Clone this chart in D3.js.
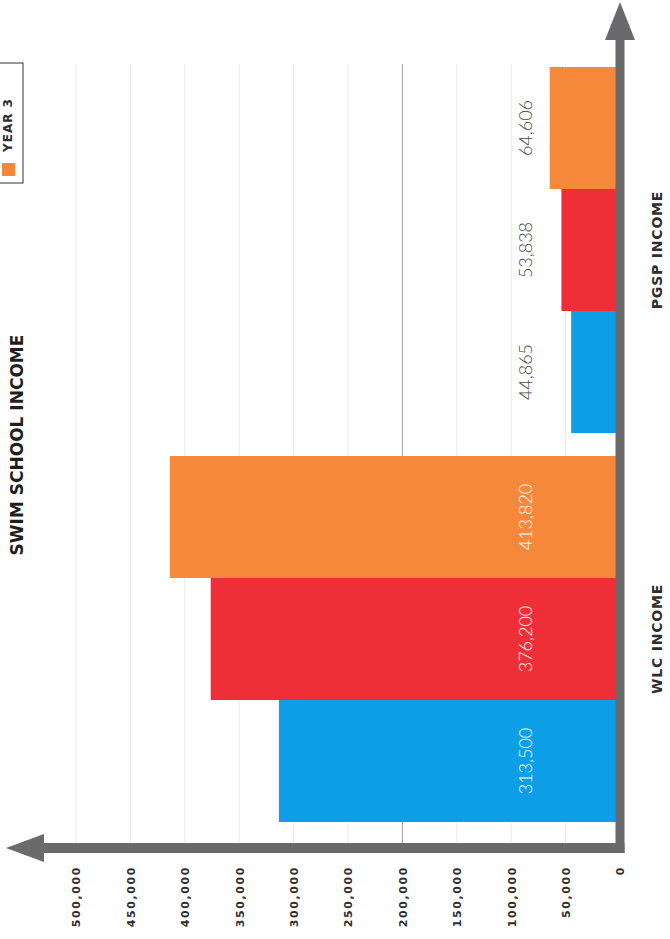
<!DOCTYPE html>
<html>
<head>
<meta charset="utf-8">
<script src="https://cdn.jsdelivr.net/npm/d3@7"></script>
<style>
  html, body { margin: 0; padding: 0; background: #ffffff; }
  svg { display: block; }
</style>
</head>
<body>
<svg id="chart" width="670" height="939"></svg>
<script>
// ---- data ----
const categories = ["PGSP INCOME", "WLC INCOME"];
const seriesNames = ["YEAR 1", "YEAR 2", "YEAR 3"];
const year1Values = [44865, 313500];
const year2Values = [53838, 376200];
const year3Values = [64606, 413820];
const tickValues = [0, 50000, 100000, 150000, 200000, 250000, 300000, 350000, 400000, 450000, 500000];
const legendShown = ["YEAR 3"]; // only this legend entry is inside the visible page
const titleText = "SWIM SCHOOL INCOME";

const seriesColors = { "YEAR 1": "#0c9fe8", "YEAR 2": "#ee2f37", "YEAR 3": "#f5883a" };
const seriesValues = { "YEAR 1": year1Values, "YEAR 2": year2Values, "YEAR 3": year3Values };

const svg = d3.select("#chart");
const boldFont = "'DejaVu Sans', sans-serif";

// value scale runs right-to-left (chart rotated)
const x = d3.scaleLinear().domain([0, 500000]).range([620, 76]);
const yCat = d3.scaleBand().domain(categories).range([67, 822]).paddingInner(0.0591).paddingOuter(0);
const ySer = d3.scaleBand().domain(["YEAR 3", "YEAR 2", "YEAR 1"]).range([0, yCat.bandwidth()]);

// gridlines
svg.append("g").selectAll("line")
  .data(tickValues.filter(t => t > 0))
  .join("line")
  .attr("x1", d => x(d)).attr("x2", d => x(d))
  .attr("y1", 64).attr("y2", 843)
  .attr("stroke", d => d === 200000 ? "#9c9c9c" : "#ececec")
  .attr("stroke-width", 1);

// bars
const rows = [];
categories.forEach((c, ci) => {
  seriesNames.forEach(s => rows.push({ cat: c, series: s, value: seriesValues[s][ci] }));
});

svg.append("g").selectAll("rect")
  .data(rows)
  .join("rect")
  .attr("x", d => x(d.value))
  .attr("y", d => yCat(d.cat) + ySer(d.series))
  .attr("width", d => x(0) - x(d.value))
  .attr("height", ySer.bandwidth())
  .attr("fill", d => seriesColors[d.series]);

// value labels
const labelPos = x(0) - 94;
svg.append("g").selectAll("text")
  .data(rows)
  .join("text")
  .attr("transform", d => `translate(${labelPos},${yCat(d.cat) + ySer(d.series) + ySer.bandwidth() / 2}) rotate(-90)`)
  .attr("text-anchor", "middle")
  .attr("dy", "0.35em")
  .attr("font-family", "Lato, sans-serif")
  .attr("font-weight", 300)
  .attr("font-size", 18)
  .attr("fill", d => x(d.value) < labelPos - 40 ? "#ffffff" : "#4a4a4a")
  .text(d => d3.format(",")(d.value));

// value axis (bottom, labels rotated)
const axisY = 848;
const axisG = svg.append("g")
  .attr("transform", `translate(0,${axisY})`)
  .call(d3.axisBottom(x).tickValues(tickValues).tickSize(0).tickFormat(d3.format(",")));
axisG.select(".domain").remove();
axisG.selectAll("text")
  .attr("transform", "rotate(-90)")
  .attr("text-anchor", "end")
  .attr("x", -18)
  .attr("y", 0)
  .attr("dy", "0.35em")
  .attr("font-family", boldFont)
  .attr("font-weight", "bold")
  .attr("font-size", 11)
  .attr("letter-spacing", "1.6px")
  .attr("fill", "#2e2e2e");

// axis arrows
const axisColor = "#6a6a6c";
const axX = 620;
svg.append("rect").attr("x", axX - 4.5).attr("y", 36).attr("width", 9).attr("height", axisY + 5 - 36).attr("fill", axisColor);
svg.append("rect").attr("x", 40).attr("y", axisY - 5).attr("width", axX + 4.5 - 40).attr("height", 10).attr("fill", axisColor);
svg.append("path")
  .attr("d", `M${axX},2 L${axX + 15},40 L${axX - 15},40 Z`)
  .attr("fill", axisColor);
svg.append("path")
  .attr("d", `M6,${axisY} L44,${axisY - 14} L44,${axisY + 14} Z`)
  .attr("fill", axisColor);

// category labels
svg.append("g").selectAll("text")
  .data(categories)
  .join("text")
  .attr("transform", d => `translate(657,${yCat(d) + yCat.bandwidth() / 2}) rotate(-90)`)
  .attr("text-anchor", "middle")
  .attr("dy", "0.35em")
  .attr("font-family", boldFont)
  .attr("font-weight", "bold")
  .attr("font-size", 14)
  .attr("letter-spacing", "0.8px")
  .attr("fill", "#2e2e2e")
  .text(d => d);

// title
svg.append("text")
  .attr("transform", "translate(23,445) rotate(-90)")
  .attr("text-anchor", "middle")
  .attr("font-family", boldFont)
  .attr("font-weight", "bold")
  .attr("font-size", 17)
  .attr("fill", "#1e1e1e")
  .text(titleText);

// legend (box runs off the page edge, as in the reference)
const legend = svg.append("g");
legend.append("rect")
  .attr("x", -80).attr("y", 63).attr("width", 103).attr("height", 120)
  .attr("fill", "none").attr("stroke", "#333").attr("stroke-width", 1);
const legendItems = legend.selectAll("g")
  .data(legendShown)
  .join("g")
  .attr("transform", "translate(8,0)");
legendItems.append("rect")
  .attr("x", -6).attr("y", 163).attr("width", 13).attr("height", 13)
  .attr("fill", d => seriesColors[d]);
legendItems.append("text")
  .attr("transform", "translate(0,152) rotate(-90)")
  .attr("text-anchor", "start")
  .attr("dy", "0.35em")
  .attr("font-family", boldFont)
  .attr("font-weight", "bold")
  .attr("font-size", 12)
  .attr("letter-spacing", "1px")
  .attr("fill", "#2e2e2e")
  .text(d => d);
</script>
</body>
</html>
